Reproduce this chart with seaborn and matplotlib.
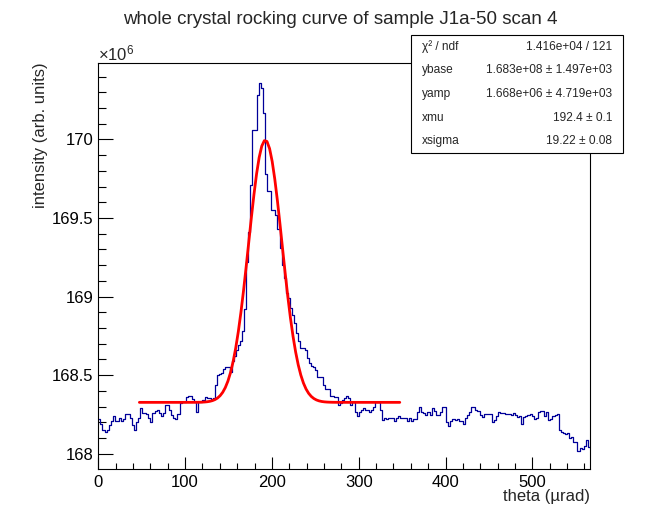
import matplotlib

matplotlib.use("Agg")
import matplotlib.pyplot as plt
import matplotlib.ticker as mticker
from matplotlib.patches import Rectangle
import numpy as np
import pandas as pd
import seaborn as sns

# histogram: 236 bins of 2.4 urad starting at 0, contents in units of 1e6
bin_width = 2.4
intensity_millions = [
    168.22, 168.19, 168.15, 168.14, 168.15, 168.18, 168.21, 168.24, 168.21, 168.21,
    168.23, 168.21, 168.22, 168.25, 168.25, 168.23, 168.18, 168.15, 168.20, 168.23,
    168.29, 168.26, 168.26, 168.25, 168.23, 168.20, 168.26, 168.27, 168.28, 168.26,
    168.24, 168.26, 168.31, 168.31, 168.28, 168.245, 168.23, 168.22, 168.255, 168.32,
    168.33, 168.33, 168.36, 168.37, 168.367, 168.35, 168.33, 168.265, 168.33, 168.33,
    168.34, 168.36, 168.355, 168.355, 168.35, 168.355, 168.435, 168.50, 168.51, 168.515,
    168.54, 168.55, 168.55, 168.52, 168.59, 168.62, 168.66, 168.69, 168.72, 168.78,
    168.92, 169.22, 169.41, 169.71, 170.06, 170.06, 170.28, 170.36, 170.33, 170.17,
    169.78, 169.67, 169.67, 169.55, 169.55, 169.52, 169.43, 169.31, 169.20, 169.12,
    169.02, 168.99, 168.93, 168.88, 168.83, 168.77, 168.72, 168.67, 168.67, 168.66,
    168.61, 168.58, 168.56, 168.55, 168.53, 168.49, 168.49, 168.49, 168.44, 168.41,
    168.41, 168.37, 168.365, 168.36, 168.36, 168.31, 168.32, 168.34, 168.355, 168.37,
    168.355, 168.31, 168.33, 168.265, 168.24, 168.265, 168.28, 168.29, 168.28, 168.276,
    168.265, 168.28, 168.30, 168.33, 168.33, 168.276, 168.217, 168.23, 168.22, 168.23,
    168.23, 168.23, 168.21, 168.23, 168.24, 168.225, 168.23, 168.227, 168.21, 168.227,
    168.21, 168.22, 168.22, 168.265, 168.30, 168.265, 168.26, 168.245, 168.265, 168.245,
    168.29, 168.27, 168.245, 168.245, 168.265, 168.30, 168.30, 168.20, 168.175, 168.21,
    168.22, 168.217, 168.22, 168.21, 168.21, 168.19, 168.225, 168.245, 168.265, 168.30,
    168.30, 168.276, 168.27, 168.245, 168.234, 168.255, 168.25, 168.255, 168.255, 168.205,
    168.217, 168.24, 168.265, 168.26, 168.26, 168.25, 168.255, 168.255, 168.248, 168.259,
    168.244, 168.234, 168.238, 168.187, 168.234, 168.24, 168.244, 168.25, 168.238, 168.219,
    168.229, 168.265, 168.269, 168.269, 168.24, 168.265, 168.212, 168.219, 168.238, 168.244,
    168.25, 168.148, 168.138, 168.134, 168.127, 168.134, 168.102, 168.106, 168.074, 168.074,
    168.017, 168.036, 168.032, 168.049, 168.085, 168.042,
]

# gaussian + constant fit shown in the stats box
fit_range = (47.3, 347.3)
fit_base = 168.327
fit_amp = 1.668
fit_mu = 192.4
fit_sigma = 19.22

stat_names = ["χ² / ndf", "ybase", "yamp", "xmu", "xsigma"]
stat_values = [
    "1.416e+04 / 121",
    "1.683e+08 ± 1.497e+03",
    "1.668e+06 ± 4.719e+03",
    "192.4 ± 0.1",
    "19.22 ± 0.08",
]

title = "whole crystal rocking curve of sample J1a-50 scan 4"
x_title = "theta (µrad)"
y_title = "intensity (arb. units)"

W, H = 656, 522


def main() -> None:
    sns.set_theme(style="ticks")
    plt.rcParams["font.family"] = ["Liberation Sans", "DejaVu Sans"]
    plt.rcParams["mathtext.fontset"] = "custom"
    plt.rcParams["mathtext.rm"] = "Liberation Sans"
    plt.rcParams["mathtext.it"] = "Liberation Sans:italic"

    values = np.array(intensity_millions)
    x_max = len(values) * bin_width
    hist_df = pd.DataFrame({
        "theta": (np.arange(len(values)) + 0.5) * bin_width,
        "intensity": values,
    })

    fig = plt.figure(figsize=(W / 100, H / 100), dpi=100)
    fig.patch.set_facecolor("white")
    ax = fig.add_axes([98.3 / W, 53 / H, 491.7 / W, 406.3 / H])
    ax.set_facecolor("white")

    sns.histplot(
        data=hist_df, x="theta", weights="intensity", binwidth=bin_width,
        binrange=(0, x_max), element="step", fill=False, color="#000099",
        linewidth=0.9, ax=ax,
    )

    fit_x = np.linspace(fit_range[0], fit_range[1], 101)
    fit_y = fit_base + fit_amp * np.exp(-0.5 * ((fit_x - fit_mu) / fit_sigma) ** 2)
    fit_df = pd.DataFrame({"theta": fit_x, "intensity": fit_y})
    sns.lineplot(data=fit_df, x="theta", y="intensity", color="red", linewidth=2.0, ax=ax)

    ax.set_xlim(0, x_max)
    ax.set_ylim(167.903, 170.488)

    ax.xaxis.set_major_locator(mticker.MultipleLocator(100))
    ax.xaxis.set_minor_locator(mticker.MultipleLocator(20))
    ax.yaxis.set_major_locator(mticker.MultipleLocator(0.5))
    ax.yaxis.set_minor_locator(mticker.MultipleLocator(0.1))
    ax.yaxis.set_major_formatter(mticker.FuncFormatter(lambda v, p: f"{v:g}"))

    ax.tick_params(axis="both", which="both", direction="in", top=False, right=False,
                   width=0.8, colors="black", labelsize=12)
    ax.tick_params(axis="y", which="major", length=11, pad=3.5)
    ax.tick_params(axis="y", which="minor", length=5.5)
    ax.tick_params(axis="x", which="major", length=8.8, pad=4.5)
    ax.tick_params(axis="x", which="minor", length=4.4)

    for spine in ax.spines.values():
        spine.set_visible(True)
        spine.set_linewidth(0.8)
        spine.set_color("black")

    ax.set_xlabel(x_title, loc="right", fontsize=12)
    ax.xaxis.set_label_coords(1.0, -0.05)
    ax.set_ylabel(y_title, loc="top", fontsize=12)
    ax.yaxis.set_label_coords(-0.103, 1.0)

    ax.text(0.0, 1.0 + 2.7 / 406.3, r"$\times10^{6}$", transform=ax.transAxes,
            ha="left", va="baseline", fontsize=12)

    fig.text(0.518, 1 - 24 / H, title, ha="center", va="baseline", fontsize=13.5)

    # stats box
    box_left, box_right, box_top, box_bottom = 410.5, 622.7, 35.0, 153.3
    fig.add_artist(Rectangle(
        (box_left / W, 1 - box_bottom / H), (box_right - box_left) / W,
        (box_bottom - box_top) / H, transform=fig.transFigure,
        facecolor="white", edgecolor="black", linewidth=0.8, zorder=5,
    ))
    row_h = (box_bottom - box_top) / len(stat_names)
    for k, (name, value) in enumerate(zip(stat_names, stat_values)):
        yc = 1 - (box_top + (k + 0.5) * row_h) / H
        fig.text(421.7 / W, yc, name, ha="left", va="center", fontsize=8.6, zorder=6)
        fig.text(612.3 / W, yc, value, ha="right", va="center", fontsize=8.6, zorder=6)

    fig.savefig("out.png", dpi=100)


if __name__ == "__main__":
    main()
